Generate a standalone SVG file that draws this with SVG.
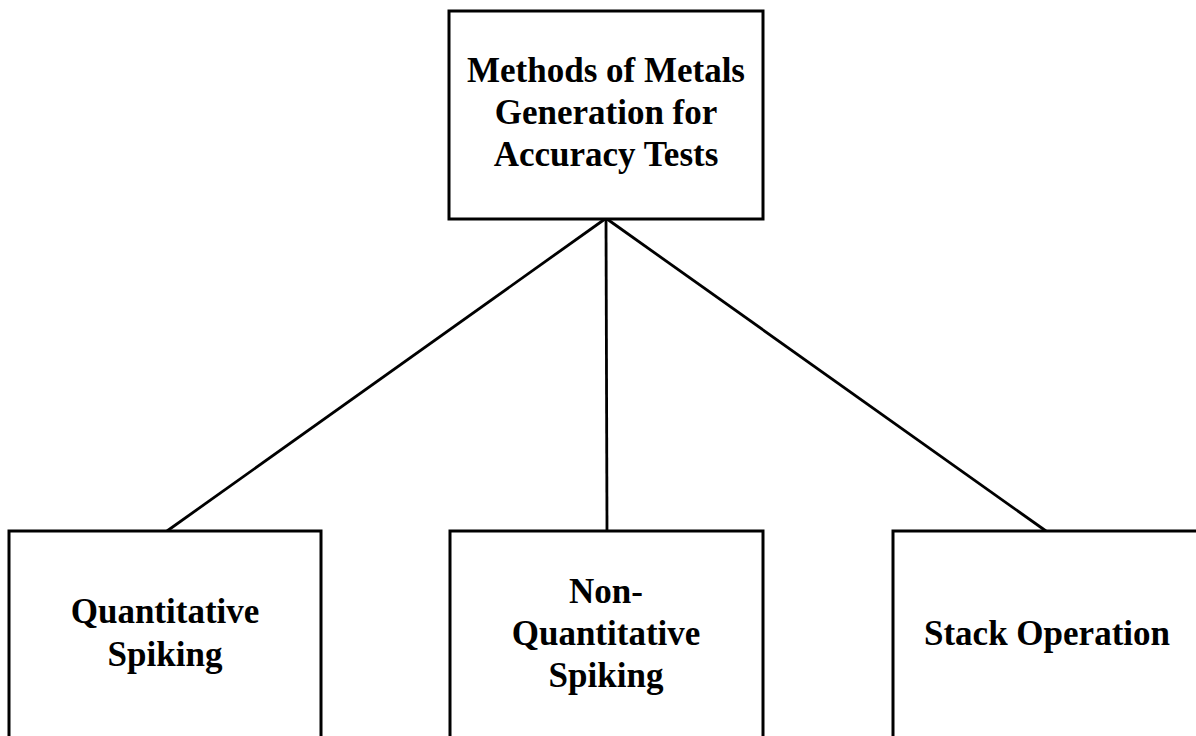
<svg xmlns="http://www.w3.org/2000/svg" width="1196" height="736" viewBox="0 0 1196 736">
<style>
.box{fill:#fff;stroke:#000;stroke-width:3}
.lbl{font-family:"Liberation Serif","Times New Roman",serif;font-weight:bold;font-size:35px;fill:#000;text-anchor:middle}
.conn{stroke:#000;stroke-width:2.8;fill:none}
</style>
<rect width="1196" height="736" fill="#fff"/>
<g id="connectors">
<line class="conn" x1="605" y1="219" x2="167" y2="531"/>
<line class="conn" x1="606" y1="219" x2="607" y2="531"/>
<line class="conn" x1="607" y1="219" x2="1046" y2="531"/>
</g>
<g id="root">
<rect class="box" x="449" y="11" width="314" height="208"/>
<text class="lbl" x="606" y="82">Methods of Metals</text>
<text class="lbl" x="606" y="124">Generation for</text>
<text class="lbl" x="606" y="166">Accuracy Tests</text>
</g>
<g id="quantitative">
<rect class="box" x="9" y="531" width="312" height="220"/>
<text class="lbl" x="165" y="623">Quantitative</text>
<text class="lbl" x="165" y="666">Spiking</text>
</g>
<g id="nonquantitative">
<rect class="box" x="450" y="531" width="313" height="220"/>
<text class="lbl" x="606" y="603">Non-</text>
<text class="lbl" x="606" y="645">Quantitative</text>
<text class="lbl" x="606" y="687">Spiking</text>
</g>
<g id="stack">
<rect class="box" x="893" y="531" width="320" height="220"/>
<text class="lbl" x="1047" y="645">Stack Operation</text>
</g>
</svg>
